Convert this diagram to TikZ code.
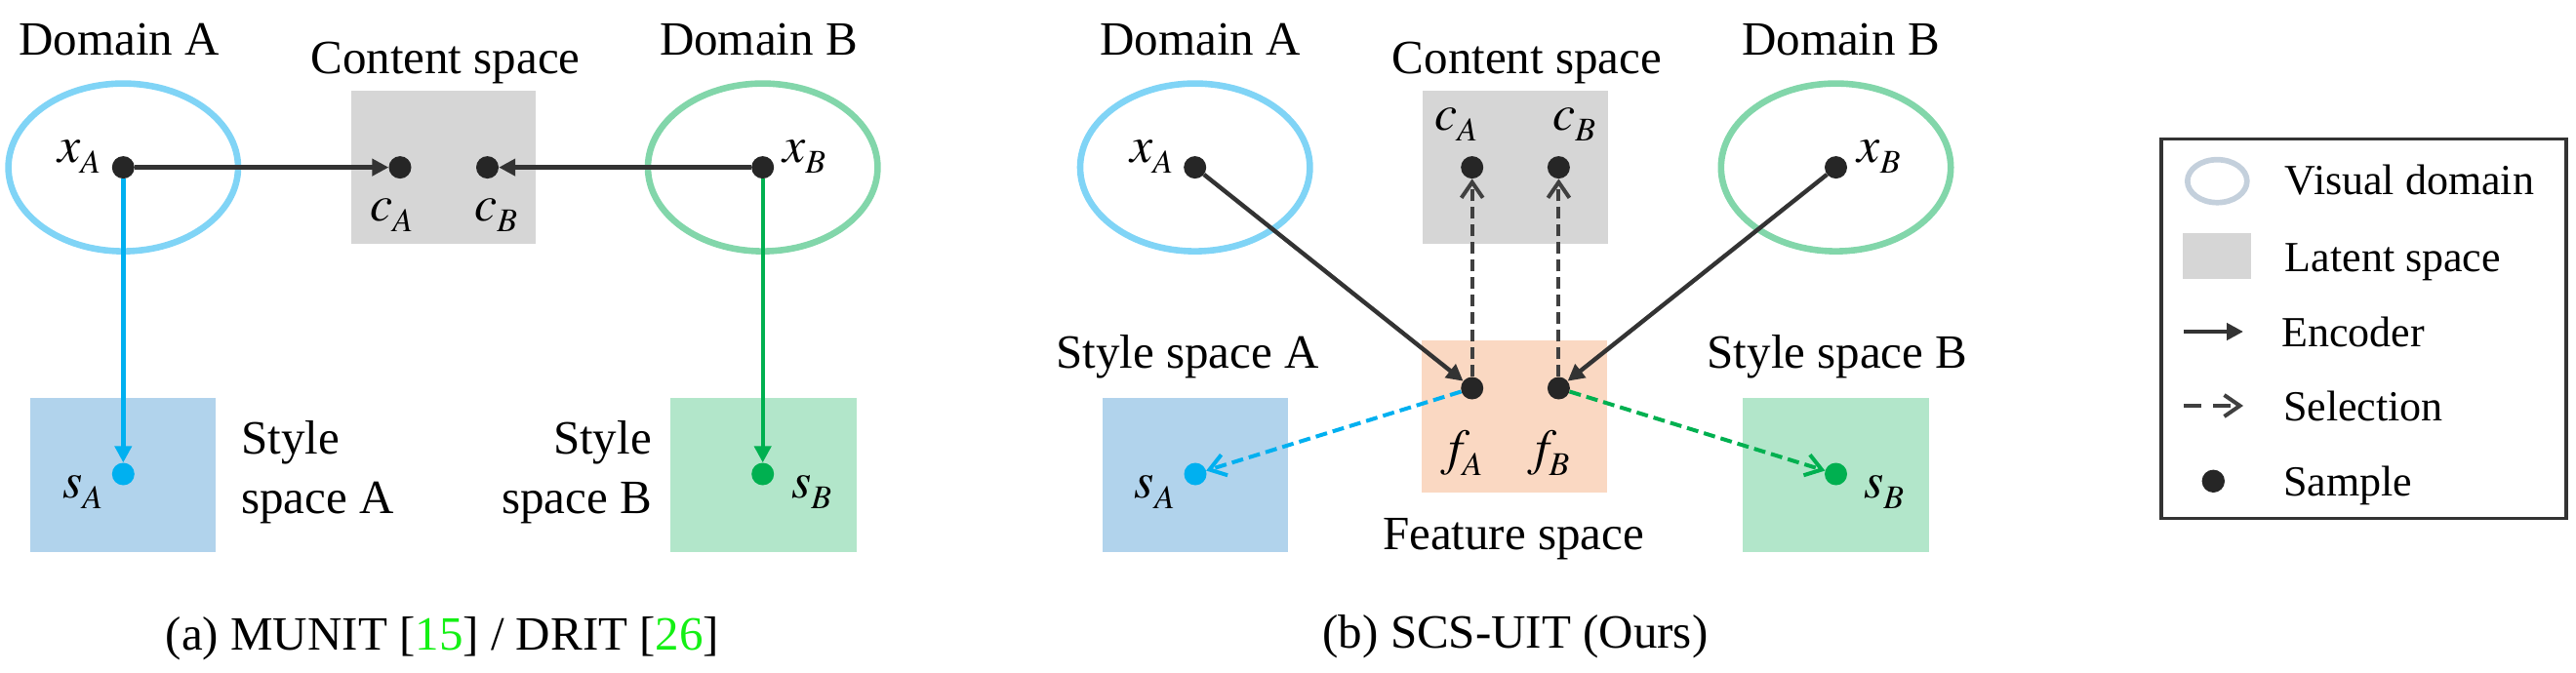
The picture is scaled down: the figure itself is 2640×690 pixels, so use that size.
\documentclass[tikz,border=0pt]{standalone}
\usepackage{fontspec}
\setmainfont{Liberation Serif}
\newfontface\termit{texgyretermes-italic.otf}
\usetikzlibrary{arrows.meta}
\definecolor{ellAc}{RGB}{128,212,246}
\definecolor{ellBc}{RGB}{130,214,170}
\definecolor{grayc}{RGB}{214,214,214}
\definecolor{styAc}{RGB}{177,211,236}
\definecolor{styBc}{RGB}{178,230,202}
\definecolor{featc}{RGB}{250,216,194}
\definecolor{bluec}{RGB}{0,176,240}
\definecolor{greenc}{RGB}{0,176,80}
\definecolor{darkc}{RGB}{51,51,51}
\definecolor{dashc}{RGB}{64,64,64}
\definecolor{dotc}{RGB}{38,38,38}
\definecolor{citec}{RGB}{20,240,20}
\definecolor{legellc}{RGB}{196,208,220}
\newcommand\vv[2]{{\termit #1}\raisebox{-11pt}{\fontsize{34}{34}\selectfont\termit #2}}
\tikzset{
  dot/.style={circle, fill=#1, inner sep=0pt, minimum size=23pt},
  dot/.default=dotc,
  domainell/.style={draw=#1, line width=6.6pt},
  txt/.style={inner sep=0pt, font=\fontsize{49}{58}\selectfont},
  legtxt/.style={inner sep=0pt, anchor=base west, font=\fontsize{44}{52}\selectfont},
  var/.style={inner sep=0pt, anchor=base west, font=\fontsize{52}{60}\selectfont},
  enc/.style={draw=#1, line width=4.4pt, -{Triangle[length=17pt,width=17pt]}},
  enc/.default=darkc,
  sel/.style={draw=#1, line width=4pt, dash pattern=on 12pt off 6pt, -{Straight Barb[length=16pt,width=22pt]}},
  sel/.default=dashc,
}
\begin{document}
\begin{tikzpicture}[x=1pt,y=-1pt]
\useasboundingbox (0,0) rectangle (2640,690);
% ---------------- panel (a)
\fill[grayc] (359.5,92.8) rectangle (548.7,250.4);
\fill[styAc] (30.8,408) rectangle (221,565.5);
\fill[styBc] (687,408) rectangle (878,565.5);
\draw[domainell=ellAc] (126.3,171.6) ellipse [x radius=117.7, y radius=86];
\draw[domainell=ellBc] (781.7,171.6) ellipse [x radius=117.7, y radius=86];
\node[dot] (xa) at (126.3,171.6) {};
\node[dot] (ca) at (410,171.6) {};
\node[dot] (cb) at (499.5,171.6) {};
\node[dot] (xb) at (781.7,171.6) {};
\node[dot=bluec] (sa) at (126.3,486) {};
\node[dot=greenc] (sb) at (781.7,486) {};
\draw[enc] (xa) -- (ca);
\draw[enc] (xb) -- (cb);
\draw[enc=bluec] (xa) -- (sa);
\draw[enc=greenc] (xb) -- (sb);
\node[var] (lxa) at (59,167) {\vv{x}{A}};
\node[var] (lxb) at (802,167) {\vv{x}{B}};
\node[var] (lca) at (379,226.6) {\vv{c}{A}};
\node[var] (lcb) at (486,226.6) {\vv{c}{B}};
\node[var] (lsa) at (64,510) {\vv{s}{A}};
\node[var] (lsb) at (811,510) {\vv{s}{B}};
\node[txt, anchor=base] (tda) at (122,57) {Domain A};
\node[txt, anchor=base] (tca) at (456.5,75.7) {Content space};
\node[txt, anchor=base] (tdb) at (777.5,57) {Domain B};
\node[txt, anchor=base west] (tsa1) at (247,465.6) {Style};
\node[txt, anchor=base west] (tsa2) at (247,526) {space A};
\node[txt, anchor=base east] (tsb1) at (668,465.6) {Style};
\node[txt, anchor=base east] (tsb2) at (668,526) {space B};
\node[txt, anchor=base] (capa) at (453.5,666.7) {(a) MUNIT [\textcolor{citec}{15}] / DRIT [\textcolor{citec}{26}]};
% ---------------- panel (b)
\fill[grayc] (1457.8,92.8) rectangle (1648.3,250.4);
\fill[featc] (1456.6,349) rectangle (1647,505);
\fill[styAc] (1130,408) rectangle (1320,565.5);
\fill[styBc] (1786,408) rectangle (1977,565.5);
\draw[domainell=ellAc] (1224.7,171.6) ellipse [x radius=117.7, y radius=86];
\draw[domainell=ellBc] (1881.5,171.6) ellipse [x radius=117.7, y radius=86];
\node[dot] (xa2) at (1224.7,171.6) {};
\node[dot] (xb2) at (1881.5,171.6) {};
\node[dot] (ca2) at (1508.7,171.6) {};
\node[dot] (cb2) at (1597.4,171.6) {};
\node[dot] (fa) at (1508.7,398) {};
\node[dot] (fb) at (1597.4,398) {};
\node[dot=bluec] (sa2) at (1225,486) {};
\node[dot=greenc] (sb2) at (1881.5,486) {};
\draw[enc] (xa2) -- (fa);
\draw[enc] (xb2) -- (fb);
\draw[sel] (fa) -- (ca2);
\draw[sel] (fb) -- (cb2);
\draw[sel=bluec] (fa) -- (sa2);
\draw[sel=greenc] (fb) -- (sb2);
\node[var] (lxa2) at (1158,167) {\vv{x}{A}};
\node[var] (lxb2) at (1903.6,167) {\vv{x}{B}};
\node[var] (lca2) at (1470,134) {\vv{c}{A}};
\node[var] (lcb2) at (1591,134) {\vv{c}{B}};
\node[var] (lfa) at (1484,476) {\vv{f}{A}};
\node[var] (lfb) at (1573,476) {\vv{f}{B}};
\node[var] (lsa2) at (1162.7,510) {\vv{s}{A}};
\node[var] (lsb2) at (1910,510) {\vv{s}{B}};
\node[txt, anchor=base] (tda2) at (1230,57) {Domain A};
\node[txt, anchor=base] (tca2) at (1565,75.7) {Content space};
\node[txt, anchor=base] (tdb2) at (1886.5,57) {Domain B};
\node[txt, anchor=base] (tsa3) at (1217,377.6) {Style space A};
\node[txt, anchor=base] (tsb3) at (1883,377.6) {Style space B};
\node[txt, anchor=base] (tfs) at (1551,563) {Feature space};
\node[txt, anchor=base] (capb) at (1553,664.5) {(b) SCS-UIT (Ours)};
% ---------------- legend
\draw[darkc, line width=3.3pt] (2215,142.7) rectangle (2630,531.7);
\draw[draw=legellc, line width=5.7pt] (2272.3,185.7) ellipse [x radius=30.5, y radius=22];
\fill[grayc] (2237,239) rectangle (2306.7,285.7);
\coordinate (e1) at (2238,340);
\coordinate (e2) at (2299,340);
\draw[enc] (e1) -- (e2);
\coordinate (s1) at (2238,416);
\coordinate (s2) at (2299,416);
\draw[sel, dash pattern=on 18pt off 12pt] (s1) -- (s2);
\node[dot, minimum size=23.4pt] (ld) at (2268.3,493.3) {};
\node[legtxt] (l1) at (2341.7,200) {Visual domain};
\node[legtxt] (l2) at (2341.7,278.3) {Latent space};
\node[legtxt] (l3) at (2338,355) {Encoder};
\node[legtxt] (l4) at (2340,431.7) {Selection};
\node[legtxt] (l5) at (2340,508.3) {Sample};
\end{tikzpicture}
\end{document}
